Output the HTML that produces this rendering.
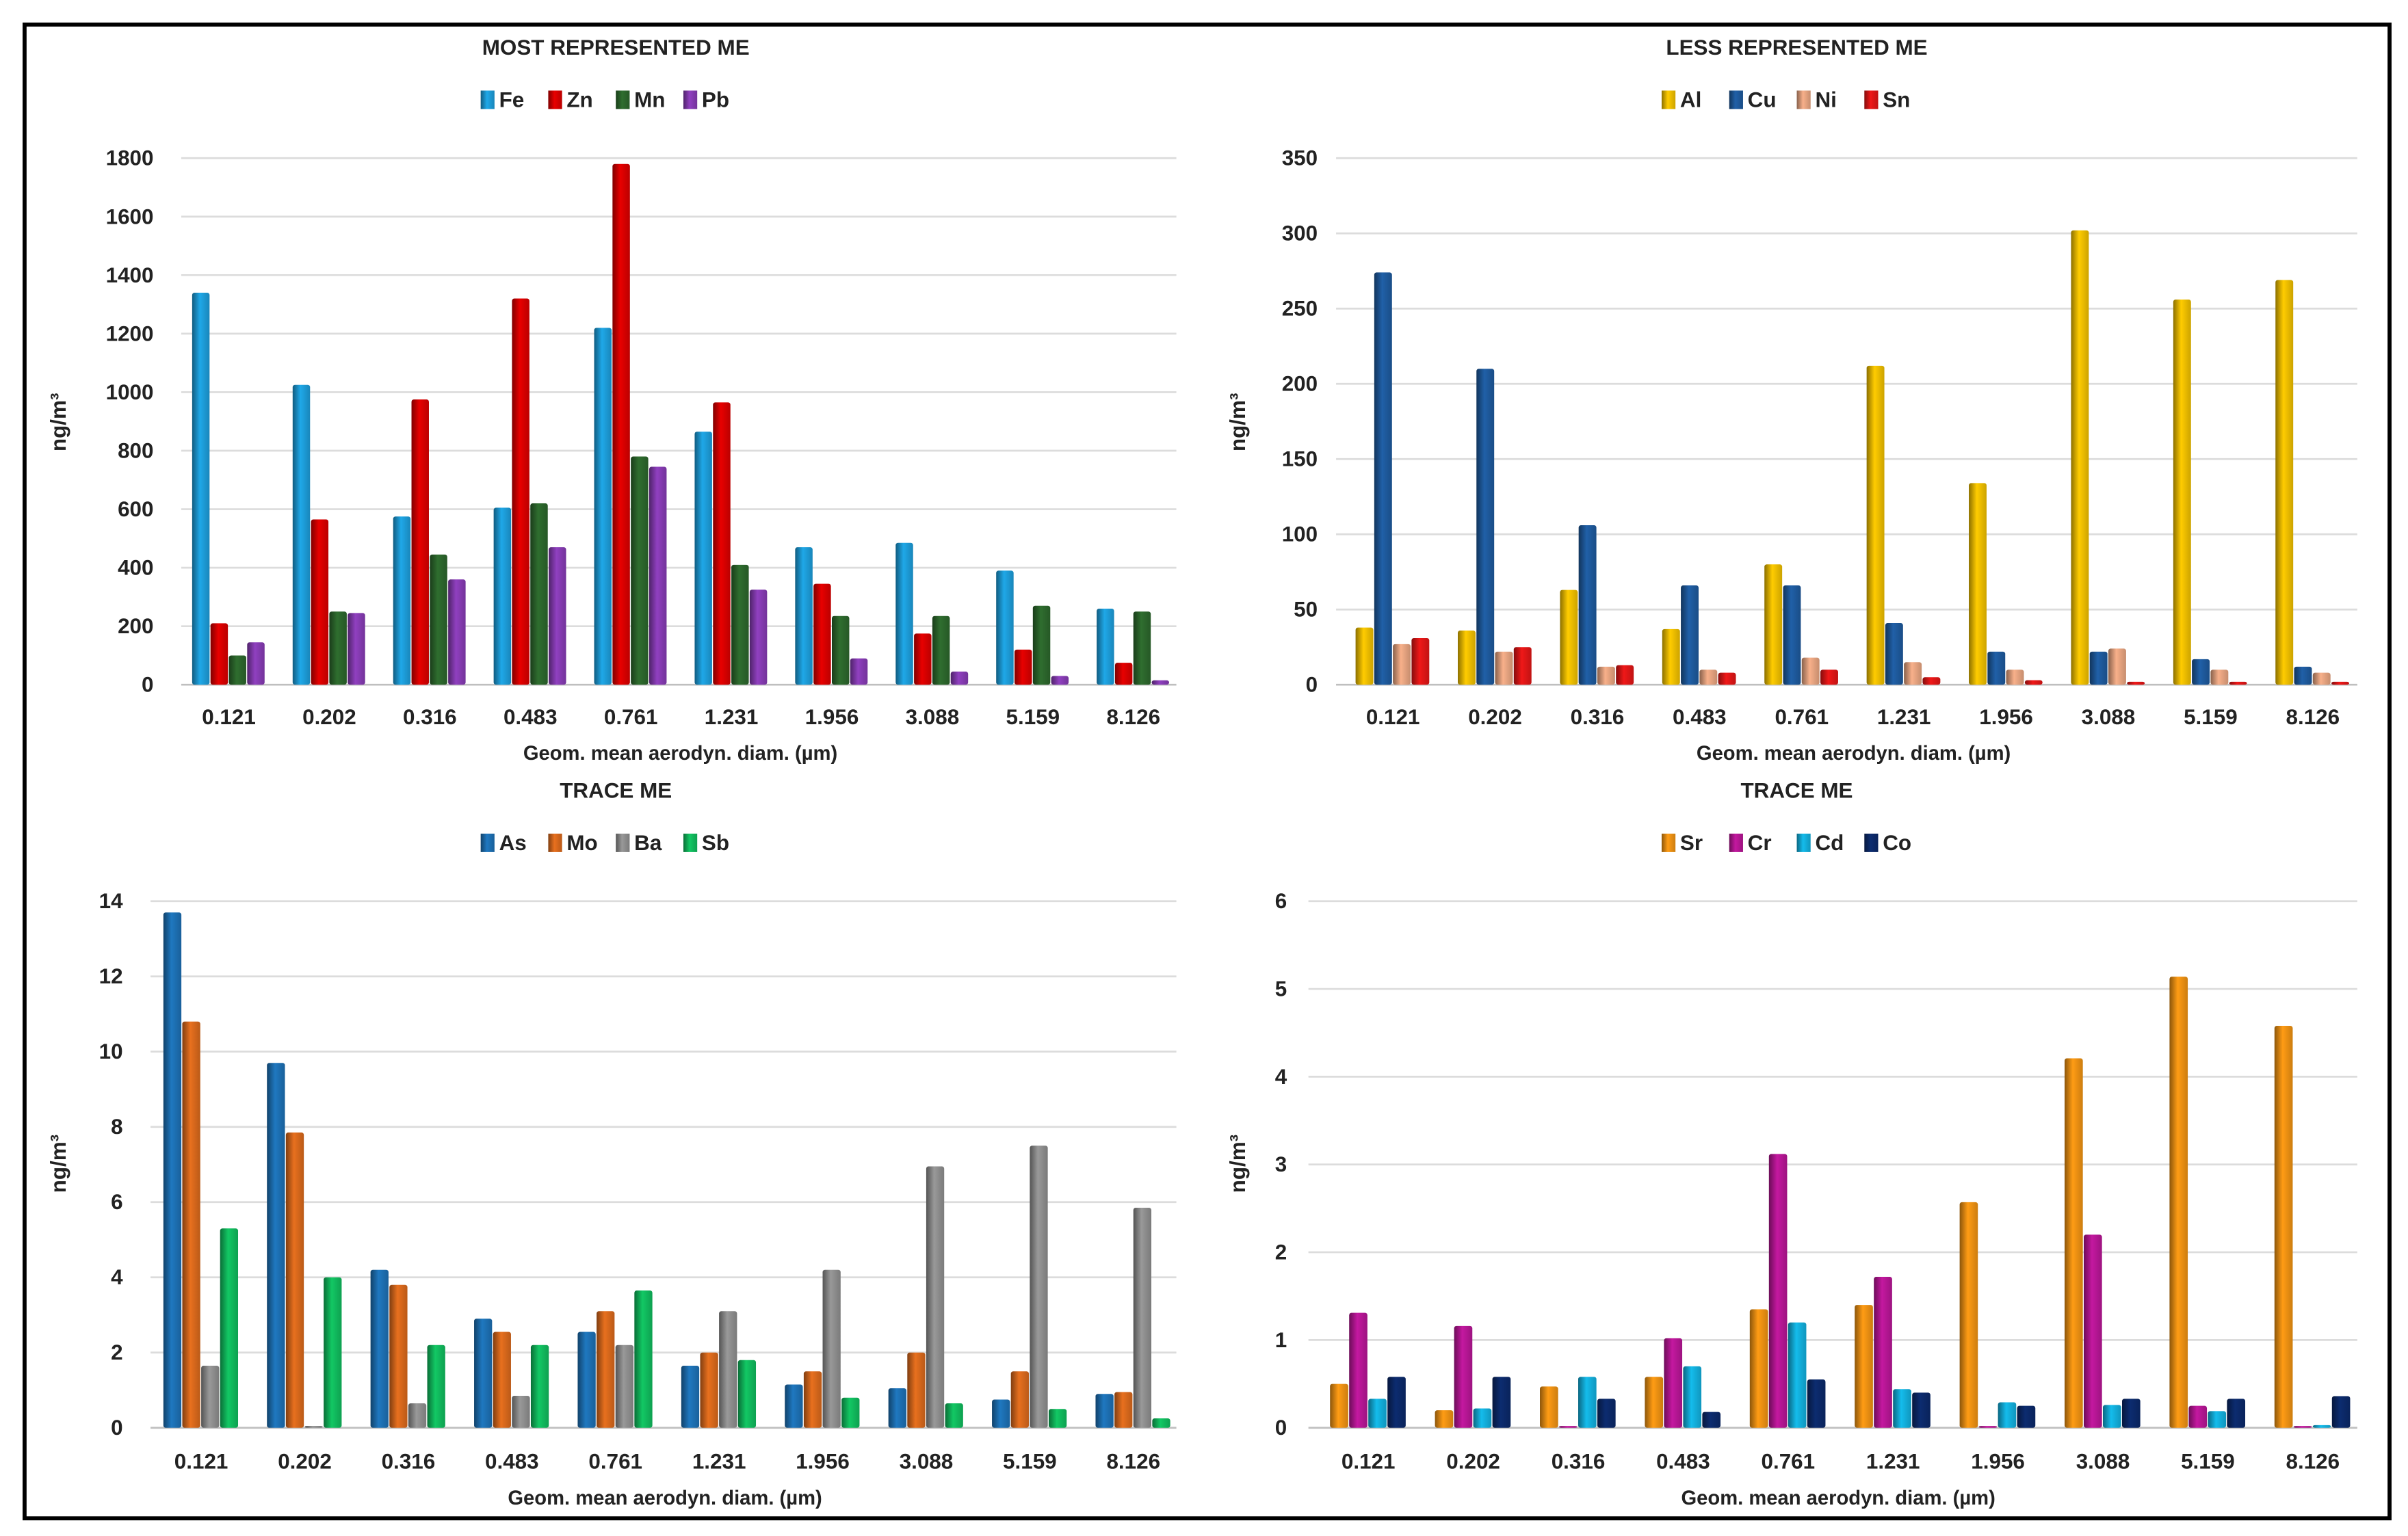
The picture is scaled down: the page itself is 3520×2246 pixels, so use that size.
<!DOCTYPE html>
<html><head><meta charset="utf-8"><style>
html,body{margin:0;padding:0;background:#fff;}
svg{display:block;font-family:"Liberation Sans",sans-serif;font-weight:bold;}
</style></head><body>
<svg id="fig" width="3520" height="2246" viewBox="0 0 1568 1000.5" xmlns="http://www.w3.org/2000/svg">
<rect x="0" y="0" width="1568" height="1000.5" fill="#fff"/>
<rect x="16" y="16" width="1540" height="973" fill="none" stroke="#000" stroke-width="2.6"/>
</svg>
<script>
const categories = ["0.121","0.202","0.316","0.483","0.761","1.231","1.956","3.088","5.159","8.126"];

const c1Names = ["Fe","Zn","Mn","Pb"];
const c1Fe = [1340,1025,575,605,1220,865,470,485,390,260];
const c1Zn = [210,565,975,1320,1780,965,345,175,120,75];
const c1Mn = [100,250,445,620,780,410,235,235,270,250];
const c1Pb = [145,245,360,470,745,325,90,45,30,15];
const c1Ticks = [0,200,400,600,800,1000,1200,1400,1600,1800];

const c2Names = ["Al","Cu","Ni","Sn"];
const c2Al = [38,36,63,37,80,212,134,302,256,269];
const c2Cu = [274,210,106,66,66,41,22,22,17,12];
const c2Ni = [27,22,12,10,18,15,10,24,10,8];
const c2Sn = [31,25,13,8,10,5,3,2,2,2];
const c2Ticks = [0,50,100,150,200,250,300,350];

const c3Names = ["As","Mo","Ba","Sb"];
const c3As = [13.7,9.7,4.2,2.9,2.55,1.65,1.15,1.05,0.75,0.9];
const c3Mo = [10.8,7.85,3.8,2.55,3.1,2.0,1.5,2.0,1.5,0.95];
const c3Ba = [1.65,0.05,0.65,0.85,2.2,3.1,4.2,6.95,7.5,5.85];
const c3Sb = [5.3,4.0,2.2,2.2,3.65,1.8,0.8,0.65,0.5,0.25];
const c3Ticks = [0,2,4,6,8,10,12,14];

const c4Names = ["Sr","Cr","Cd","Co"];
const c4Sr = [0.5,0.2,0.47,0.58,1.35,1.4,2.57,4.21,5.14,4.58];
const c4Cr = [1.31,1.16,0.02,1.02,3.12,1.72,0.02,2.2,0.25,0.02];
const c4Cd = [0.33,0.22,0.58,0.7,1.2,0.44,0.29,0.26,0.19,0.03];
const c4Co = [0.58,0.58,0.33,0.18,0.55,0.4,0.25,0.33,0.33,0.36];
const c4Ticks = [0,1,2,3,4,5,6];

const NS = "http://www.w3.org/2000/svg";
const svg = document.getElementById("fig");
const defs = document.createElementNS(NS,"defs");
svg.appendChild(defs);
let gid = 0;
function grad(color){
  const id = "g"+(gid++);
  const g = document.createElementNS(NS,"linearGradient");
  g.setAttribute("id",id);g.setAttribute("x1","0");g.setAttribute("x2","1");
  [["0",0.55],["0.45",1],["1",0.8]].forEach(([o,k])=>{
    const s=document.createElementNS(NS,"stop");
    s.setAttribute("offset",o);
    s.setAttribute("stop-color",color);
    s.setAttribute("stop-opacity","1");
    if(k<1){s.setAttribute("style","stop-color:"+shade(color,k));}
    g.appendChild(s);
  });
  defs.appendChild(g);
  return "url(#"+id+")";
}
function shade(hex,k){
  const n=parseInt(hex.slice(1),16);
  const r=Math.round(((n>>16)&255)*k),g=Math.round(((n>>8)&255)*k),b=Math.round((n&255)*k);
  return "rgb("+r+","+g+","+b+")";
}
function el(tag,attrs,parent){
  const e=document.createElementNS(NS,tag);
  for(const k in attrs)e.setAttribute(k,attrs[k]);
  (parent||svg).appendChild(e);return e;
}
function txt(x,y,s,size,anchor,parent){
  const t=el("text",{x:x,y:y,"font-size":size,"text-anchor":anchor||"middle","dominant-baseline":"central",fill:"#222"},parent);
  t.textContent=s;return t;
}

function chart(cfg){
  const g=el("g",{});
  
  
  const maxV=cfg.ticks[cfg.ticks.length-1];
  const yScale=v=>cfg.y0+(cfg.yTop-cfg.y0)*(v/maxV);
  const step=(cfg.xLast-cfg.xFirst)/(categories.length-1);
  const xScale=i=>cfg.xFirst+i*step;
  // title
  const t=txt(cfg.cx,cfg.titleY,cfg.title,14,"middle",g);
  
  
  // legend
  const itemW=cfg.series.map(s=>14+s.name.length*9+12);
  const totW=itemW.reduce((a,b)=>a+b,0);
  let lx=cfg.cx-totW/2;
  cfg.series.forEach((s,k)=>{
    const lg=el("g",{},g);
    
    
    el("rect",{x:lx,y:cfg.legY-6,width:9,height:12,fill:grad(s.color)},lg);
    txt(lx+12,cfg.legY,s.name,14,"start",lg);
    lx+=itemW[k];
  });
  // gridlines & ticks
  cfg.ticks.forEach(v=>{
    const y=yScale(v);
    const gl=el("line",{x1:cfg.gx1,x2:cfg.gx2,y1:y,y2:y,stroke:v===0?"#bfbfbf":"#dcdcdc","stroke-width":1.2},g);
    
    
    const tl=txt(cfg.labX,y,String(v),14,"end",g);
    
    
  });
  // bars
  const gw=step*0.73, bw=gw/cfg.series.length;
  cfg.series.forEach((s,k)=>{
    const fill=grad(s.color);
    s.values.forEach((v,i)=>{
      const x=xScale(i)-gw/2+k*bw;
      const y=yScale(v), y0=yScale(0);
      const b=el("rect",{x:x,y:y,width:bw-0.6,height:Math.max(0.8,y0-y),fill:fill,rx:1.5},g);
      
      
    });
  });
  categories.forEach((c,i)=>{
    const xl=txt(xScale(i),cfg.xLabY,c,14,"middle",g);
    
    
  });
  const xt=txt(cfg.xTitleX,cfg.xTitleY,"Geom. mean aerodyn. diam. (µm)",13,"middle",g);
  
  
  const yt=txt(0,0,"ng/m³",14,"middle",g);
  yt.setAttribute("transform","translate("+cfg.yTitleX+","+cfg.yTitleY+") rotate(-90)");
  
  
}

chart({name:"chart-most-represented",title:"MOST REPRESENTED ME",cx:401,titleY:31,legY:65,
  ticks:c1Ticks,y0:446,yTop:103,gx1:118,gx2:766,labX:100,xFirst:149,xLast:738,xLabY:467,
  xTitleX:443,xTitleY:491,yTitleX:38,yTitleY:275,
  series:[{name:c1Names[0],values:c1Fe,color:"#1fa8e8"},{name:c1Names[1],values:c1Zn,color:"#e80000"},
          {name:c1Names[2],values:c1Mn,color:"#2f6e2f"},{name:c1Names[3],values:c1Pb,color:"#9040c0"}]});
chart({name:"chart-less-represented",title:"LESS REPRESENTED ME",cx:1170,titleY:31,legY:65,
  ticks:c2Ticks,y0:446,yTop:103,gx1:870,gx2:1535,labX:858,xFirst:907,xLast:1506,xLabY:467,
  xTitleX:1207,xTitleY:491,yTitleX:806,yTitleY:275,
  series:[{name:c2Names[0],values:c2Al,color:"#ffcc00"},{name:c2Names[1],values:c2Cu,color:"#2060a8"},
          {name:c2Names[2],values:c2Ni,color:"#f8b08a"},{name:c2Names[3],values:c2Sn,color:"#f01818"}]});
chart({name:"chart-trace-1",title:"TRACE ME",cx:401,titleY:515,legY:549,
  ticks:c3Ticks,y0:930,yTop:587,gx1:98,gx2:766,labX:80,xFirst:131,xLast:738,xLabY:952,
  xTitleX:433,xTitleY:976,yTitleX:38,yTitleY:758,
  series:[{name:c3Names[0],values:c3As,color:"#1f78c0"},{name:c3Names[1],values:c3Mo,color:"#e8701e"},
          {name:c3Names[2],values:c3Ba,color:"#999999"},{name:c3Names[3],values:c3Sb,color:"#12c864"}]});
chart({name:"chart-trace-2",title:"TRACE ME",cx:1170,titleY:515,legY:549,
  ticks:c4Ticks,y0:930,yTop:587,gx1:852,gx2:1535,labX:838,xFirst:891,xLast:1506,xLabY:952,
  xTitleX:1197,xTitleY:976,yTitleX:806,yTitleY:758,
  series:[{name:c4Names[0],values:c4Sr,color:"#ff9c14"},{name:c4Names[1],values:c4Cr,color:"#c418a0"},
          {name:c4Names[2],values:c4Cd,color:"#14bcec"},{name:c4Names[3],values:c4Co,color:"#0c2c70"}]});
</script>
</body></html>
